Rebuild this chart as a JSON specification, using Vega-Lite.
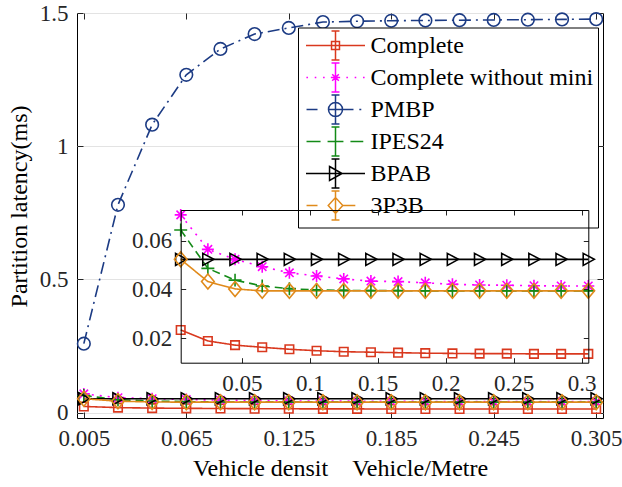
{
  "$schema": "https://vega.github.io/schema/vega-lite/v6.json",
  "autosize": {"type": "none"},
  "width": 526,
  "height": 405,
  "padding": {"left": 77, "top": 13, "right": 19, "bottom": 69},
  "background": "white",
  "config": {
    "font": "Liberation Serif",
    "view": {"stroke": "black"},
    "axis": {"labelFont": "Liberation Serif", "labelFontSize": 23, "labelColor": "#262626", "titleFont": "Liberation Serif", "titleFontSize": 24, "titleFontWeight": "normal", "titleColor": "black", "domainColor": "black", "tickColor": "#262626", "grid": false}
  },
  "data": {"values": [
    {"s":"Complete","x":0.005,"y":0.0234},{"s":"Complete","x":0.025,"y":0.0189},{"s":"Complete","x":0.045,"y":0.0172},{"s":"Complete","x":0.065,"y":0.0163},{"s":"Complete","x":0.085,"y":0.0155},{"s":"Complete","x":0.105,"y":0.0149},{"s":"Complete","x":0.125,"y":0.0145},{"s":"Complete","x":0.145,"y":0.0143},{"s":"Complete","x":0.165,"y":0.0141},{"s":"Complete","x":0.185,"y":0.0139},{"s":"Complete","x":0.205,"y":0.0138},{"s":"Complete","x":0.225,"y":0.0137},{"s":"Complete","x":0.245,"y":0.0137},{"s":"Complete","x":0.265,"y":0.0136},{"s":"Complete","x":0.285,"y":0.0136},{"s":"Complete","x":0.305,"y":0.0136},
    {"s":"Complete without mini","x":0.005,"y":0.0705},{"s":"Complete without mini","x":0.025,"y":0.0564},{"s":"Complete without mini","x":0.045,"y":0.0523},{"s":"Complete without mini","x":0.065,"y":0.0493},{"s":"Complete without mini","x":0.085,"y":0.0468},{"s":"Complete without mini","x":0.105,"y":0.0455},{"s":"Complete without mini","x":0.125,"y":0.0443},{"s":"Complete without mini","x":0.145,"y":0.0434},{"s":"Complete without mini","x":0.165,"y":0.0432},{"s":"Complete without mini","x":0.185,"y":0.0427},{"s":"Complete without mini","x":0.205,"y":0.0421},{"s":"Complete without mini","x":0.225,"y":0.0418},{"s":"Complete without mini","x":0.245,"y":0.0417},{"s":"Complete without mini","x":0.265,"y":0.0415},{"s":"Complete without mini","x":0.285,"y":0.0414},{"s":"Complete without mini","x":0.305,"y":0.0414},
    {"s":"PMBP","x":0.005,"y":0.259},{"s":"PMBP","x":0.025,"y":0.780},{"s":"PMBP","x":0.045,"y":1.081},{"s":"PMBP","x":0.065,"y":1.268},{"s":"PMBP","x":0.085,"y":1.365},{"s":"PMBP","x":0.105,"y":1.421},{"s":"PMBP","x":0.125,"y":1.444},{"s":"PMBP","x":0.145,"y":1.466},{"s":"PMBP","x":0.165,"y":1.469},{"s":"PMBP","x":0.185,"y":1.471},{"s":"PMBP","x":0.205,"y":1.472},{"s":"PMBP","x":0.225,"y":1.473},{"s":"PMBP","x":0.245,"y":1.474},{"s":"PMBP","x":0.265,"y":1.475},{"s":"PMBP","x":0.285,"y":1.476},{"s":"PMBP","x":0.305,"y":1.477},
    {"s":"IPES24","x":0.005,"y":0.0643},{"s":"IPES24","x":0.025,"y":0.0486},{"s":"IPES24","x":0.045,"y":0.0438},{"s":"IPES24","x":0.065,"y":0.0414},{"s":"IPES24","x":0.085,"y":0.0403},{"s":"IPES24","x":0.105,"y":0.0398},{"s":"IPES24","x":0.125,"y":0.0396},{"s":"IPES24","x":0.145,"y":0.0395},{"s":"IPES24","x":0.165,"y":0.0395},{"s":"IPES24","x":0.185,"y":0.0394},{"s":"IPES24","x":0.205,"y":0.0394},{"s":"IPES24","x":0.225,"y":0.0394},{"s":"IPES24","x":0.245,"y":0.0394},{"s":"IPES24","x":0.265,"y":0.0394},{"s":"IPES24","x":0.285,"y":0.0394},{"s":"IPES24","x":0.305,"y":0.0394},
    {"s":"BPAB","x":0.005,"y":0.0523},{"s":"BPAB","x":0.025,"y":0.0523},{"s":"BPAB","x":0.045,"y":0.0523},{"s":"BPAB","x":0.065,"y":0.0523},{"s":"BPAB","x":0.085,"y":0.0523},{"s":"BPAB","x":0.105,"y":0.0523},{"s":"BPAB","x":0.125,"y":0.0523},{"s":"BPAB","x":0.145,"y":0.0523},{"s":"BPAB","x":0.165,"y":0.0523},{"s":"BPAB","x":0.185,"y":0.0523},{"s":"BPAB","x":0.205,"y":0.0523},{"s":"BPAB","x":0.225,"y":0.0523},{"s":"BPAB","x":0.245,"y":0.0523},{"s":"BPAB","x":0.265,"y":0.0523},{"s":"BPAB","x":0.285,"y":0.0523},{"s":"BPAB","x":0.305,"y":0.0523},
    {"s":"3P3B","x":0.005,"y":0.0523},{"s":"3P3B","x":0.025,"y":0.0432},{"s":"3P3B","x":0.045,"y":0.0402},{"s":"3P3B","x":0.065,"y":0.0394},{"s":"3P3B","x":0.085,"y":0.0394},{"s":"3P3B","x":0.105,"y":0.0394},{"s":"3P3B","x":0.125,"y":0.0394},{"s":"3P3B","x":0.145,"y":0.0394},{"s":"3P3B","x":0.165,"y":0.0394},{"s":"3P3B","x":0.185,"y":0.0394},{"s":"3P3B","x":0.205,"y":0.0394},{"s":"3P3B","x":0.225,"y":0.0394},{"s":"3P3B","x":0.245,"y":0.0394},{"s":"3P3B","x":0.265,"y":0.0394},{"s":"3P3B","x":0.285,"y":0.0394},{"s":"3P3B","x":0.305,"y":0.0394}
  ]},
  "transform": [{"calculate": "datum.s", "as": "m"}],
  "layer": [
    {
      "layer": [
        {
          "mark": {"type": "line", "strokeWidth": 1.6},
          "encoding": {
            "x": {"field": "x", "type": "quantitative", "scale": {"domain": [0.001, 0.309], "nice": false, "zero": false},
                  "axis": {"orient": "bottom", "values": [0.005, 0.065, 0.125, 0.185, 0.245, 0.305], "format": ".3f", "title": "Vehicle densit\u00a0\u00a0\u00a0\u00a0Vehicle/Metre", "tickSize": -6, "labelPadding": 15, "domain": false, "titlePadding": 6}},
            "y": {"field": "y", "type": "quantitative", "scale": {"domain": [-0.02, 1.5], "nice": false, "zero": false},
                  "axis": {"orient": "left", "values": [0, 0.5, 1, 1.5], "format": "~g", "title": "Partition latency(ms)", "titleY": 193, "tickSize": -6, "labelPadding": 15, "domain": false, "grid": true, "gridColor": "#e3e3e3", "titlePadding": 8}},
            "color": {"field": "s", "type": "nominal",
                      "scale": {"domain": ["Complete", "Complete without mini", "PMBP", "IPES24", "BPAB", "3P3B"], "range": ["#D9381E", "#FF00FF", "#1C3B84", "#138A17", "#000000", "#E08A1B"]},
                      "legend": {"title": null, "orient": "none", "legendX": 221, "legendY": 14.5, "padding": 4, "fillColor": "white", "strokeColor": "black",
                                 "labelFont": "Liberation Serif", "labelFontSize": 24, "labelColor": "black", "labelLimit": 400, "symbolSize": 700, "symbolStrokeWidth": 1.5, "symbolOffset": 19.5, "labelOffset": 21, "rowPadding": -9.6,
                                 "encode": {"symbols": {"update": {
                                   "fill": {"value": "transparent"},
                                   "size": {"value": 700},
                                   "shape": {"signal": "datum.value === 'Complete' ? 'M-2.23,0H2.23M-0.3,-0.3H0.3V0.3H-0.3ZM0,-1.1V1.1M-0.3,-1.1H0.3M-0.3,1.1H0.3' : datum.value === 'Complete without mini' ? 'M-2.2,0H-2.08M-1.57,0H-1.45M-0.94,0H-0.82M0.82,0H0.94M1.45,0H1.57M2.08,0H2.2M-0.35,0H0.35M0,-0.35V0.35M-0.25,-0.25L0.25,0.25M-0.25,0.25L0.25,-0.25M0,-1.1V1.1M-0.3,-1.1H0.3M-0.3,1.1H0.3' : datum.value === 'PMBP' ? 'M-2.19,0H-1.36M-0.53,0H1.36M1.8,0H1.95M0.53,0A0.53,0.53,0,1,1,-0.53,0A0.53,0.53,0,1,1,0.53,0M0,-1.1V1.1M-0.3,-1.1H0.3M-0.3,1.1H0.3' : datum.value === 'IPES24' ? 'M-2.19,0H-1.13M-0.6,0H0.6M1.13,0H2.1M0,-1.1V1.1M-0.3,-1.1H0.3M-0.3,1.1H0.3' : datum.value === 'BPAB' ? 'M-2.23,0H2.23M-0.45,-0.53L0.5,0L-0.45,0.53ZM0,-1.1V1.1M-0.3,-1.1H0.3M-0.3,1.1H0.3' : 'M-2.19,0H-1.36M0.55,0H1.5M-0.55,0L0,-0.6L0.55,0L0,0.6ZM0,-1.1V1.1M-0.3,-1.1H0.3M-0.3,1.1H0.3'"}
                                 }}}}},
            "strokeDash": {"field": "m", "type": "nominal",
                           "scale": {"range": [[1, 0], [1, 0], [1, 0], [2, 6], [8, 5], [12, 5, 2, 5]]},
                           "legend": null}
          }
        },
        {
          "mark": {"type": "point", "filled": false, "strokeWidth": 1.6, "size": 144, "opacity": 1},
          "encoding": {
            "x": {"field": "x", "type": "quantitative", "axis": null},
            "y": {"field": "y", "type": "quantitative", "axis": null},
            "color": {"field": "s", "type": "nominal", "legend": null},
            "shape": {"field": "m", "type": "nominal",
                      "scale": {"range": ["M-1.05,0L0,-1.25L1.05,0L0,1.25Z", "M-0.85,-1L1,0L-0.85,1Z", "M-0.71,-0.71H0.71V0.71H-0.71Z", "M-1,0H1M0,-1V1M-0.7,-0.7L0.7,0.7M-0.7,0.7L0.7,-0.7", "M-1.08,0H1.08M0,-1.08V1.08", "M1.05,0A1.05,1.05,0,1,1,-1.05,0A1.05,1.05,0,1,1,1.05,0Z"]},
                      "legend": null}
          }
        },
        {
          "mark": {"type": "point", "opacity": 0},
          "encoding": {
            "x": {"field": "x", "type": "quantitative", "axis": {"orient": "top", "values": [0.005, 0.065, 0.125, 0.185, 0.245, 0.305], "labels": false, "tickSize": -6, "domain": false, "title": null}},
            "y": {"field": "y", "type": "quantitative", "axis": {"orient": "right", "values": [0, 0.5, 1, 1.5], "labels": false, "tickSize": -6, "domain": false, "title": null}}
          }
        }
      ],
      "resolve": {"axis": {"x": "independent", "y": "independent"}}
    },
    {
      "transform": [{"filter": "datum.s !== 'PMBP'"}],
      "layer": [
        {
          "transform": [{"filter": "datum.s === 'BPAB' && datum.x === 0.005"}],
          "mark": {"type": "rect", "color": "white"},
          "encoding": {
            "x": {"datum": 0.005, "type": "quantitative", "scale": {"domain": [0.005, 0.305], "range": [103.7, 511.3], "nice": false, "zero": false}, "axis": null},
            "x2": {"datum": 0.305},
            "y": {"datum": 0.01, "type": "quantitative", "scale": {"domain": [0.01, 0.0725], "range": [349.7, 197], "nice": false, "zero": false}, "axis": null},
            "y2": {"datum": 0.0725}
          }
        },
        {
          "mark": {"type": "line", "strokeWidth": 1.6},
          "encoding": {
            "x": {"field": "x", "type": "quantitative", "axis": {"orient": "bottom", "offset": -55.3, "values": [0.05, 0.1, 0.15, 0.2, 0.25, 0.3], "format": "~g", "tickSize": -5, "labelPadding": 15, "title": null, "zindex": 1}},
            "y": {"field": "y", "type": "quantitative", "axis": {"orient": "left", "offset": -103.7, "values": [0.02, 0.04, 0.06], "format": ".2f", "tickSize": -5, "labelPadding": 14, "title": null, "zindex": 1}},
            "color": {"field": "s", "type": "nominal", "legend": null},
            "strokeDash": {"field": "m", "type": "nominal", "legend": null}
          }
        },
        {
          "mark": {"type": "point", "filled": false, "strokeWidth": 1.6, "size": 144, "opacity": 1},
          "encoding": {
            "x": {"field": "x", "type": "quantitative", "axis": null},
            "y": {"field": "y", "type": "quantitative", "axis": null},
            "color": {"field": "s", "type": "nominal", "legend": null},
            "shape": {"field": "m", "type": "nominal", "legend": null}
          }
        },
        {
          "mark": {"type": "point", "opacity": 0},
          "encoding": {
            "x": {"field": "x", "type": "quantitative", "axis": {"orient": "top", "offset": -197, "values": [0.05, 0.1, 0.15, 0.2, 0.25, 0.3], "labels": false, "tickSize": -5, "title": null, "zindex": 1}},
            "y": {"field": "y", "type": "quantitative", "axis": {"orient": "right", "offset": -14.7, "values": [0.02, 0.04, 0.06], "labels": false, "tickSize": -5, "title": null, "zindex": 1}}
          }
        }
      ],
      "resolve": {"axis": {"x": "independent", "y": "independent"}}
    }
  ],
  "resolve": {"scale": {"x": "independent", "y": "independent"}}
}
